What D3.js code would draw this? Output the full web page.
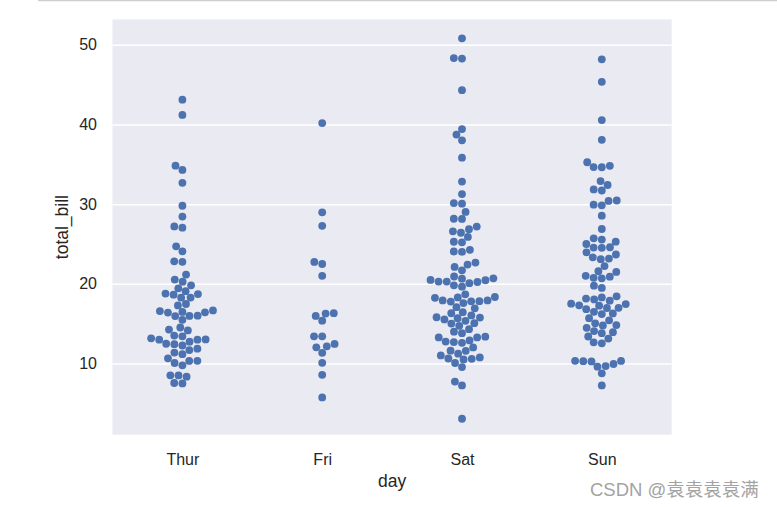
<!DOCTYPE html>
<html lang="en">
  <head>
    <meta charset="UTF-8" />
    <title>swarmplot</title>
    <style>
      body { margin: 0; background: #fff; }
      text { font-family: "Liberation Sans", Arial, sans-serif; }
    </style>
  </head>
  <body>
    <svg id="svg" width="777" height="507"></svg>

    <script src="https://d3js.org/d3.v7.min.js"></script>
    <script>
      // tips dataset, total_bill grouped by day
      const days = ["Thur", "Fri", "Sat", "Sun"];

      const thur = [27.2, 22.76, 17.29, 19.44, 16.66, 10.07, 32.68, 15.98, 34.83, 13.03, 18.28, 24.71, 21.16,
        10.65, 12.43, 24.08, 11.69, 13.42, 14.26, 15.95, 12.48, 29.8, 8.52, 14.52, 11.38, 22.82, 19.08, 20.27,
        11.17, 12.26, 18.26, 8.51, 10.33, 14.15, 16.0, 13.16, 17.47, 34.3, 41.19, 27.05, 16.43, 8.35, 18.64,
        11.87, 9.78, 7.51, 19.81, 28.44, 15.48, 16.58, 7.56, 10.34, 43.11, 13.0, 13.51, 18.71, 12.74, 13.0,
        16.4, 20.53, 16.47, 18.78];

      const fri = [28.97, 22.49, 5.75, 16.32, 22.75, 40.17, 27.28, 12.03, 21.01, 12.46, 11.35, 15.38,
        12.16, 13.42, 8.58, 15.98, 13.42, 16.27, 10.09];

      const sat = [20.65, 17.92, 20.29, 15.77, 39.42, 19.82, 17.81, 13.37, 12.69, 21.7, 19.65, 9.55, 18.35,
        15.06, 20.69, 17.78, 24.06, 16.31, 16.93, 18.69, 31.27, 16.04, 38.01, 26.41, 11.24, 48.27, 20.29,
        13.81, 11.02, 18.29, 17.59, 20.08, 16.45, 3.07, 20.23, 15.01, 12.02, 17.07, 26.86, 25.28, 14.73,
        10.51, 17.92, 44.3, 22.42, 20.92, 15.36, 20.49, 25.21, 18.24, 14.31, 14.0, 7.25, 10.59, 10.63, 50.81,
        15.81, 26.59, 38.73, 24.27, 12.76, 30.06, 25.89, 48.33, 13.27, 28.17, 12.9, 28.15, 11.59, 7.74,
        30.14, 20.45, 13.28, 22.12, 24.01, 15.69, 11.61, 10.77, 15.53, 10.07, 12.6, 32.83, 35.83, 29.03,
        27.18, 22.67, 17.82];

      const sun = [16.99, 10.34, 21.01, 23.68, 24.59, 25.29, 8.77, 26.88, 15.04, 14.78, 10.27, 35.26, 15.42,
        18.43, 14.83, 21.58, 10.33, 16.29, 16.97, 17.46, 13.94, 9.68, 30.4, 18.29, 22.23, 32.4, 28.55, 18.04,
        12.54, 10.29, 34.81, 9.94, 25.56, 19.49, 38.07, 23.95, 25.71, 17.31, 29.93, 14.07, 13.13, 17.26,
        24.55, 19.77, 29.85, 48.17, 25.0, 13.39, 16.49, 21.5, 12.66, 16.21, 13.81, 17.51, 24.52, 20.76,
        31.71, 7.25, 31.85, 16.82, 32.9, 17.89, 14.48, 9.6, 34.63, 34.65, 23.33, 45.35, 23.17, 40.55, 20.69,
        20.9, 30.46, 18.15, 23.1, 15.69];

      const values = [thur, fri, sat, sun];
      const yTicks = [10, 20, 30, 40, 50];

      const svg = d3.select("#svg");
      const plotL = 112.5, plotR = 671.7, plotT = 19.5, plotB = 434.7;
      const R = 3.9; // marker radius in px

      const x = d3.scalePoint().domain(days).range([plotL, plotR]).padding(0.5);
      const y = d3.scaleLinear().domain([1.07, 53.17]).range([plotB, plotT]);

      // notebook cell border at the top
      svg.append("line")
        .attr("x1", 38).attr("x2", 777).attr("y1", 0.5).attr("y2", 0.5)
        .attr("stroke", "#cfcfcf").attr("stroke-width", 1.5);

      svg.append("rect")
        .attr("x", plotL).attr("y", plotT)
        .attr("width", plotR - plotL).attr("height", plotB - plotT)
        .attr("fill", "#eaeaf2");

      // y axis: gridlines + labels, no tick marks
      const yAxis = svg.append("g")
        .attr("transform", `translate(${plotL},0)`)
        .call(d3.axisLeft(y).tickValues(yTicks).tickSize(-(plotR - plotL)).tickPadding(15.5));
      yAxis.select(".domain").remove();
      yAxis.selectAll(".tick line").attr("stroke", "#fff").attr("stroke-width", 1.5);
      yAxis.selectAll(".tick text")
        .attr("fill", "#262626").style("font-size", "16px");

      const xAxis = svg.append("g")
        .attr("transform", `translate(0,${plotB})`)
        .call(d3.axisBottom(x).tickSize(0).tickPadding(19));
      xAxis.select(".domain").remove();
      xAxis.selectAll(".tick text")
        .attr("fill", "#262626").style("font-size", "16px");

      svg.append("text")
        .attr("x", (plotL + plotR) / 2).attr("y", 487)
        .attr("text-anchor", "middle")
        .attr("fill", "#262626").style("font-size", "17.5px")
        .text("day");

      svg.append("text")
        .attr("transform", `translate(68,${(plotT + plotB) / 2}) rotate(-90)`)
        .attr("text-anchor", "middle")
        .attr("fill", "#262626").style("font-size", "17.5px")
        .text("total_bill");

      // same idea as seaborn's Beeswarm: place points bottom-up, closest free spot to the midline
      function beeswarm(vals, cx) {
        const pts = vals.map((v) => ({ v: v, x: cx, y: y(v), r: R }));
        const sorted = pts.slice().sort((a, b) => a.v - b.v);
        const swarm = [sorted[0]];
        for (let k = 1; k < sorted.length; k++) {
          const p = sorted[k];
          const neighbors = [];
          for (let j = swarm.length - 1; j >= 0; j--) {
            const q = swarm[j];
            if (Math.abs(p.y - q.y) < p.r + q.r) neighbors.push(q);
            else break;
          }
          let cands = [cx];
          let leftFirst = true;
          neighbors.forEach((q) => {
            const dy = p.y - q.y;
            const dx = Math.sqrt(Math.max((p.r + q.r) ** 2 - dy * dy, 0)) * 1.05;
            cands.push(...(leftFirst ? [q.x - dx, q.x + dx] : [q.x + dx, q.x - dx]));
            leftFirst = !leftFirst;
          });
          cands = cands
            .map((c, i) => ({ c, i }))
            .sort((a, b) => Math.abs(a.c - cx) - Math.abs(b.c - cx) || a.i - b.i)
            .map((d) => d.c);
          let chosen = cands[0];
          for (const c of cands) {
            const ok = neighbors.every((q) => (q.x - c) ** 2 + (q.y - p.y) ** 2 >= (q.r + p.r) ** 2);
            if (ok) { chosen = c; break; }
          }
          p.x = chosen;
          swarm.push(p);
        }
        return pts;
      }

      days.forEach((day, i) => {
        const pts = beeswarm(values[i], x(day));
        svg.append("g")
          .selectAll("circle")
          .data(pts)
          .enter()
          .append("circle")
          .attr("cx", (d) => d.x)
          .attr("cy", (d) => d.y)
          .attr("r", R)
          .attr("fill", "#4c72b0");
      });

      // watermark
      svg.append("text")
        .attr("x", 590).attr("y", 496)
        .attr("fill", "#a3a3a3")
        .style("font-family", "'Liberation Sans', 'Noto Sans CJK SC', sans-serif")
        .style("font-size", "18.5px")
        .text("CSDN @袁袁袁袁满");
    </script>
  </body>
</html>
